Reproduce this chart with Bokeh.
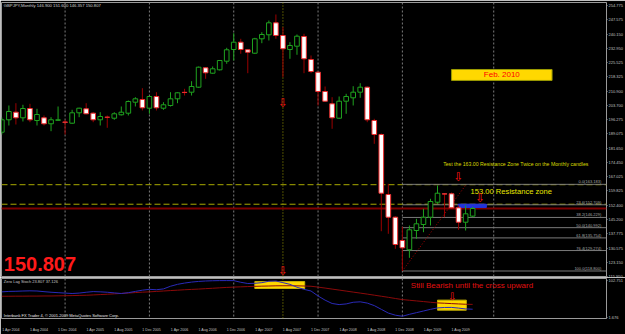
from bokeh.plotting import figure
from bokeh.layouts import column
from bokeh.models import (Range1d, FixedTicker, Span, Label, ColumnDataSource,
                          LinearAxis, PrintfTickFormatter)
from bokeh.core.properties import value
from bokeh.embed import file_html
from bokeh.resources import INLINE

# ---------------- data ----------------
header_text = "GBPJPY,Monthly  146.900 151.600 146.357 150.807"
month_index = list(range(68))          # 0 = Apr 2004 ... 67 = Nov 2009
opens = [189.89, 196.24, 200.13, 197.26, 202.02, 195.88, 197.26, 194.19, 195.98, 195.10,
         194.50, 199.82, 201.87, 199.62, 196.24, 197.60, 197.05, 198.80, 199.62, 205.25,
         206.63, 202.18, 208.17, 202.18, 203.56, 206.99, 210.30, 210.37, 212.93, 222.87,
         220.10, 221.84, 226.25, 232.24, 235.98, 232.09, 230.35, 237.72, 239.77, 245.91,
         239.41, 232.24, 233.93, 238.90, 227.12, 220.61, 210.73, 204.43, 197.05, 205.76,
         207.50, 210.37, 212.93, 195.88, 188.71, 157.98, 146.35, 134.42, 129.66, 139.54,
         142.61, 146.35, 154.03, 158.30, 158.34, 151.17, 143.79, 146.90]
highs = [197.41, 203.56, 204.74, 203.92, 204.43, 201.87, 198.44, 197.57, 203.05, 196.24,
         201.36, 202.40, 204.74, 200.13, 200.13, 198.44, 200.13, 203.05, 206.12, 207.81,
         212.42, 208.30, 210.37, 205.25, 210.37, 210.37, 212.11, 216.00, 223.50, 223.10,
         223.54, 226.80, 233.11, 240.59, 237.72, 232.30, 238.20, 241.10, 247.09, 250.17,
         243.66, 235.98, 239.92, 240.28, 229.17, 220.90, 213.29, 207.81, 208.17, 209.55,
         213.44, 214.98, 213.30, 196.75, 189.20, 163.46, 146.80, 141.50, 142.10, 145.53,
         150.65, 155.77, 162.59, 158.50, 159.00, 152.34, 152.34, 151.60]
lows = [188.71, 193.32, 193.83, 195.37, 195.01, 193.32, 193.32, 190.40, 195.88, 188.71,
        194.19, 197.57, 199.10, 195.01, 193.32, 192.14, 196.24, 198.44, 198.44, 203.05,
        201.00, 199.31, 201.00, 201.36, 203.05, 204.74, 208.68, 208.68, 212.60, 217.23,
        219.80, 221.50, 224.92, 226.61, 230.04, 220.10, 230.04, 235.47, 236.85, 237.72,
        218.05, 227.48, 229.53, 220.10, 220.10, 203.56, 205.50, 191.63, 196.75, 199.31,
        203.56, 207.50, 195.01, 183.94, 139.18, 137.85, 130.17, 118.80, 125.55, 135.29,
        138.67, 142.10, 153.21, 146.35, 150.60, 139.90, 139.54, 146.357]
closes = [196.24, 200.49, 197.26, 202.02, 196.24, 198.95, 194.19, 196.24, 196.24, 194.95,
          199.82, 202.18, 199.31, 196.24, 197.93, 197.50, 199.31, 200.13, 205.61, 206.99,
          202.38, 208.17, 202.38, 203.92, 206.99, 210.06, 210.20, 213.29, 223.18, 220.31,
          222.36, 226.61, 232.09, 235.98, 232.24, 230.86, 237.72, 239.92, 245.91, 239.41,
          232.60, 234.29, 239.05, 227.48, 220.97, 210.73, 205.76, 197.26, 205.76, 208.17,
          210.37, 212.93, 196.24, 188.71, 158.64, 146.35, 132.37, 130.67, 139.90, 142.97,
          146.35, 154.39, 158.64, 158.20, 151.17, 143.79, 148.09, 150.807]
stoch_main = [71.7, 72.9, 73.3, 74.0, 74.5, 74.0, 72.2, 70.6, 69.4, 68.3,
              67.1, 68.3, 70.6, 72.4, 71.7, 70.6, 68.8, 67.1, 69.4, 72.9,
              76.3, 78.6, 77.5, 79.8, 87.1, 92.4, 95.9, 98.6, 100.4, 101.6,
              102.3, 102.7, 102.75, 102.7, 98.1, 94.7, 95.2, 97.0, 100.9, 101.6,
              97.0, 92.4, 84.4, 78.6, 74.0, 60.3, 48.8, 39.6, 36.6, 38.4,
              43.0, 44.2, 40.7, 33.8, 23.5, 13.2, 7.4, 4.4, 9.7, 14.3,
              18.9, 23.5, 27.4, 28.6, 28.8, 26.9, 24.6, 23.807]
stoch_signal = [59.6, 59.6, 59.8, 59.8, 60.0, 60.0, 60.3, 60.3, 60.7, 61.0,
                61.4, 61.9, 62.3, 63.2, 64.2, 65.1, 66.2, 67.4, 68.5, 69.7,
                70.8, 71.7, 72.9, 74.0, 75.2, 76.3, 77.5, 78.4, 79.3, 80.5,
                81.6, 82.8, 83.9, 84.8, 85.5, 86.2, 86.9, 87.4, 87.8, 88.3,
                88.5, 88.5, 88.3, 87.8, 87.1, 84.8, 82.1, 79.3, 76.6, 73.8,
                71.0, 68.3, 65.5, 62.5, 59.6, 56.6, 53.4, 50.4, 48.5, 46.7,
                44.9, 43.0, 41.2, 40.3, 39.3, 38.4, 37.5, 37.126]

date_tick_months = list(range(0, 65, 4))
date_tick_labels = ["1 Apr 2004", "1 Aug 2004", "1 Dec 2004", "1 Apr 2005", "1 Aug 2005",
                    "1 Dec 2005", "1 Apr 2006", "1 Aug 2006", "1 Dec 2006", "1 Apr 2007",
                    "1 Aug 2007", "1 Dec 2007", "1 Apr 2008", "1 Aug 2008", "1 Dec 2008",
                    "1 Apr 2009", "1 Aug 2009"]
year_start_months = [9, 21, 33, 45, 57]
target_month = 70                      # Feb 2010 vertical line
price_ticks = [254.775, 247.575, 240.150, 232.950, 225.525, 218.325, 210.900, 203.700,
               196.275, 189.075, 181.650, 174.450, 167.025, 159.825, 152.400, 145.200,
               137.775, 130.575, 123.150, 115.950]
stoch_ticks = [102.751, 1.676]
resistance_levels = [163.00, 153.00]
last_price = 150.807
highlight_prices = [163.000, 153.000, 150.807]
highlight_texts = ["163.000", "153.000", "150.807"]
fib_low, fib_high = 118.80, 163.183
fib_low_month, fib_high_month = 57, 66.1
fib_levels = [0.0, 23.6, 38.2, 50.0, 61.8, 76.4, 100.0]
marker_month = 40
arrow_months = [40, 40, 65.0, 68.1]
arrow_prices = [204.6, 119.0, 166.7, 156.2]
zone_month = [64.95, 68.95]
zone_price = [151.34, 153.03]
note_box_month = [64.0, 78.3]
note_box_price = [216.4, 222.0]
stoch_zone_left = [36.0, 62.0]
stoch_zone_right = [43.1, 66.1]
stoch_zone_bottom = [80.9, 21.2]
stoch_zone_top = [100.0, 48.8]

# ---------------- styling ----------------
BG = "#000000"
FONT = "Liberation Sans"
PX_PER_MONTH = 7.05
FRAME_W = 607
x0 = -0.05
x1 = x0 + FRAME_W / PX_PER_MONTH
GRAY = "#9a9a9a"

bull = [c >= o for o, c in zip(opens, closes)]
src = ColumnDataSource(dict(
    x=month_index, o=opens, h=highs, l=lows, c=closes,
    top=[max(o, c) for o, c in zip(opens, closes)],
    bottom=[min(o, c) for o, c in zip(opens, closes)],
    fill=["#000000" if b else "#ffffff" for b in bull],
    line=["#1fa31f" if b else "#ee2c2c" for b in bull],
    wick=["#1fa31f" if b else "#9b0000" for b in bull],
))

# ---------------- main price panel ----------------
p1 = figure(width=625, height=277, x_range=Range1d(x0, x1), y_range=Range1d(115.47, 256.31),
            x_axis_location=None, y_axis_location="right", toolbar_location=None,
            output_backend="svg", min_border_left=1, min_border_right=17, min_border_top=2,
            min_border_bottom=0, background_fill_color=BG, border_fill_color=BG,
            outline_line_color=GRAY)
p1.grid.visible = False
ya = p1.yaxis[0]
ya.ticker = FixedTicker(ticks=price_ticks)
ya.formatter = PrintfTickFormatter(format="%.3f")
ya.major_label_text_font_size = "4px"
ya.major_label_text_color = "#c0c0c0"
ya.major_label_text_font = FONT
ya.axis_line_color = None
ya.major_tick_line_color = GRAY
ya.major_tick_out = 1
ya.major_tick_in = 0
ya.minor_tick_line_color = None
ya.major_label_standoff = 1

for m in year_start_months + [target_month]:
    p1.add_layout(Span(location=m, dimension="height", line_color="#7c7c7c",
                       line_dash="2 2", line_width=1, level="underlay"))
p1.add_layout(Span(location=marker_month, dimension="height", line_color="#9c9c00",
                   line_dash="1 2", line_width=1, level="underlay"))
for lvl in resistance_levels:
    p1.add_layout(Span(location=lvl, dimension="width", line_color="#a8a800",
                       line_dash="6 3", line_width=1, level="underlay"))
p1.add_layout(Span(location=last_price, dimension="width", line_color="#7d0000",
                   line_width=2, level="underlay"))

fib_prices = [fib_high - f / 100.0 * (fib_high - fib_low) for f in fib_levels]
fib_labels = ["%.1f(%.3f)" % (f, pr) for f, pr in zip(fib_levels, fib_prices)]
p1.segment(x0=[fib_low_month] * len(fib_prices), x1=[x1] * len(fib_prices),
           y0=fib_prices, y1=fib_prices, line_color="#7a7a7a", line_width=1)
p1.text(x=[85.3] * len(fib_prices), y=fib_prices, text=fib_labels,
        text_font=value(FONT), text_font_size="4px", text_color="#a8a8a8",
        text_align="right", text_baseline="bottom")
p1.line(x=[fib_low_month, fib_high_month], y=[fib_low, fib_high], line_color="#b00000",
        line_dash="1 2", line_width=1)

p1.quad(left=[zone_month[0]], right=[zone_month[1]], bottom=[zone_price[0]],
        top=[zone_price[1]], fill_color="#2233dd", line_color="#2233dd")

p1.segment(x0="x", y0="l", x1="x", y1="h", source=src, line_color="wick", line_width=1)
p1.vbar(x="x", top="top", bottom="bottom", width=0.66, source=src,
        fill_color="fill", line_color="line", line_width=1)

p1.quad(left=[note_box_month[0]], right=[note_box_month[1]], bottom=[note_box_price[0]],
        top=[note_box_price[1]], fill_color="#ffd800", line_color="#9a9a00")
p1.text(x=[sum(note_box_month) / 2], y=[sum(note_box_price) / 2], text=["Feb. 2010"],
        text_font=value(FONT), text_font_size="8px", text_color="#ff0000",
        text_align="center", text_baseline="middle")

p1.text(x=[0.28], y=[254.8], text=[header_text], text_font=value(FONT),
        text_font_size="4.2px", text_color="#d0d0d0", text_align="left",
        text_baseline="middle")
p1.text(x=[0.28], y=[122.4], text=["%.3f" % last_price], text_font=value(FONT),
        text_font_size="20px", text_font_style="bold", text_color="#ff1a1a",
        text_align="left", text_baseline="middle")
p1.text(x=[62.8], y=[173.6],
        text=["Test the 163.00 Resistance Zone Twice on the Monthly candles"],
        text_font=value(FONT), text_font_size="5.2px", text_color="#d8d800",
        text_align="left", text_baseline="middle")
p1.text(x=[66.7], y=[159.3], text=["153.00 Resistance zone"], text_font=value(FONT),
        text_font_size="7.6px", text_color="#e8e800", text_align="left",
        text_baseline="middle")
p1.text(x=arrow_months, y=arrow_prices, text=["\u21e9"] * len(arrow_months),
        text_font=value("DejaVu Sans"), text_font_size="12px", text_color="#ff1010",
        text_align="center", text_baseline="middle")

for pr, tx in zip(highlight_prices, highlight_texts):
    white = tx == "%.3f" % last_price
    p1.add_layout(Label(x=x1 + 0.12, y=pr, text=tx, text_font=FONT, text_font_size="4px",
                        text_color="#000000", text_align="left", text_baseline="middle",
                        background_fill_color="#ffffff" if white else "#e6e600"))

# ---------------- indicator panel ----------------
p2 = figure(width=625, height=57, x_range=p1.x_range, y_range=Range1d(-1.77, 108.49),
            x_axis_location=None, y_axis_location="right", toolbar_location=None,
            output_backend="svg", min_border_left=1, min_border_right=17, min_border_top=1,
            min_border_bottom=8, background_fill_color=BG, border_fill_color=BG,
            outline_line_color=GRAY)
p2.grid.visible = False
ya2 = p2.yaxis[0]
ya2.ticker = FixedTicker(ticks=stoch_ticks)
ya2.formatter = PrintfTickFormatter(format="%.3f")
ya2.major_label_text_font_size = "4px"
ya2.major_label_text_color = "#c0c0c0"
ya2.major_label_text_font = FONT
ya2.axis_line_color = None
ya2.major_tick_line_color = GRAY
ya2.major_tick_out = 1
ya2.major_tick_in = 0
ya2.minor_tick_line_color = None
ya2.major_label_standoff = 1

p2.extra_x_ranges = {"dates": Range1d(x0 - 1.3, x1 - 1.3)}
dax = LinearAxis(x_range_name="dates", ticker=FixedTicker(ticks=date_tick_months),
                 major_label_overrides={m: lab for m, lab in zip(date_tick_months, date_tick_labels)})
dax.major_label_text_font_size = "3.6px"
dax.major_label_text_color = "#c0c0c0"
dax.major_label_text_font = FONT
dax.axis_line_color = None
dax.major_tick_line_color = None
dax.minor_tick_line_color = None
dax.major_label_standoff = 3
p2.add_layout(dax, "below")

for m in year_start_months + [target_month]:
    p2.add_layout(Span(location=m, dimension="height", line_color="#7c7c7c",
                       line_dash="2 2", line_width=1, level="underlay"))
p2.add_layout(Span(location=marker_month, dimension="height", line_color="#9c9c00",
                   line_dash="1 2", line_width=1, level="underlay"))

p2.quad(left=stoch_zone_left, right=stoch_zone_right, bottom=stoch_zone_bottom,
        top=stoch_zone_top, fill_color="#ffd800", line_color="#c8b400")
p2.line(x=month_index, y=stoch_signal, line_color="#8b0a0a", line_width=1)
p2.line(x=month_index, y=stoch_main, line_color="#2a2ab8", line_width=1)

p2.text(x=[0.28], y=[99.3], text=["Zero Lag Stoch 23.807 37.126"], text_font=value(FONT),
        text_font_size="4px", text_color="#c8c8c8", text_align="left", text_baseline="middle")
p2.text(x=[0.28], y=[6.7],
        text=["Interbank FX Trader 4, \u00a9 2001-2009 MetaQuotes Software Corp."],
        text_font=value(FONT), text_font_size="4px", text_color="#e8e8e8",
        text_align="left", text_baseline="middle")
p2.text(x=[58.2], y=[89.0], text=["Still Bearish until the cross upward"],
        text_font=value(FONT), text_font_size="8px", text_color="#e01010",
        text_align="left", text_baseline="middle")
p2.text(x=[64.1], y=[60.2], text=["\u21e9"], text_font=value("DejaVu Sans"),
        text_font_size="10px", text_color="#ff1010", text_align="center",
        text_baseline="middle")

layout = column(p1, p2)
open("out.html", "w").write(file_html(layout, INLINE))
